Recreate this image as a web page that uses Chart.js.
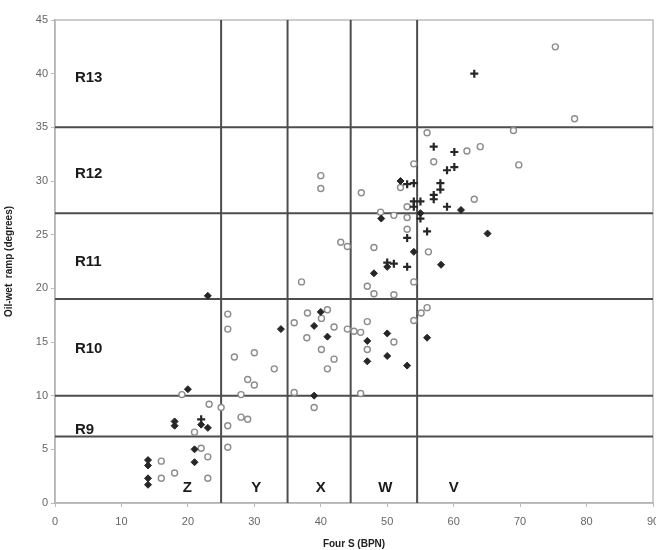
<!DOCTYPE html>
<html>
<head>
<meta charset="utf-8">
<script src="https://cdn.jsdelivr.net/npm/chart.js@4"></script>
<style>
  html, body { margin: 0; padding: 0; background: #fff; }
  #wrap { width: 656px; height: 550px; }
</style>
</head>
<body>
<div id="wrap"><canvas id="chart" width="656" height="550"></canvas></div>
<script>
// open circles
const circleX = [75.3, 78.2, 69, 69.8, 56, 62, 64, 57, 54, 46.1, 52, 63.1, 49, 51, 53, 53, 53, 56.2, 48, 43, 44, 40, 40,
  37.1, 47, 48, 51, 54, 56, 55.1, 54, 36, 38, 41, 40.1, 37.9, 42, 40.1, 42, 41, 44, 45, 46, 47, 51, 47, 36, 46, 39,
  26, 26, 27, 30, 33, 29, 30, 28, 23.2, 25, 28, 29, 26, 26, 21, 22, 23, 23, 16, 16, 18, 19.1];
const circleY = [42.5, 35.8, 34.7, 31.5, 34.5, 32.8, 33.2, 31.8, 31.6, 28.9, 29.4, 28.3, 27.1, 26.8, 27.6, 26.6, 25.5, 23.4, 23.8, 24.3, 23.9, 30.5, 29.3,
  20.6, 20.2, 19.5, 19.4, 20.6, 18.2, 17.7, 17.0, 16.8, 17.7, 18.0, 17.2, 15.4, 16.4, 14.3, 13.4, 12.5, 16.2, 16.0, 15.9, 16.9, 15.0, 14.3, 10.3, 10.2, 8.9,
  17.6, 16.2, 13.6, 14.0, 12.5, 11.5, 11.0, 10.1, 9.2, 8.9, 8.0, 7.8, 7.2, 5.2, 6.6, 5.1, 4.3, 2.3, 3.9, 2.3, 2.8, 10.1];

// filled diamonds
const diamondX = [23, 34, 20, 18, 18, 22, 23, 21, 21, 14, 14, 14, 14, 40, 39, 41, 47, 47, 50, 50, 53, 56, 39,
  52, 55, 49.1, 61.1, 65.1, 54, 58.1, 48, 50];
const diamondY = [19.3, 16.2, 10.6, 7.6, 7.2, 7.3, 7.0, 5.0, 3.8, 4.0, 3.5, 2.3, 1.7, 17.8, 16.5, 15.5, 15.1, 13.2, 15.8, 13.7, 12.8, 15.4, 10.0,
  30.0, 27.0, 26.5, 27.3, 25.1, 23.4, 22.2, 21.4, 22.0];

// crosses
const crossX = [63.1, 57, 60.1, 59, 60.1, 58, 58, 57, 57, 53, 54, 54, 55, 54, 59, 55, 56, 53, 50, 51, 53, 22];
const crossY = [40.0, 33.2, 32.7, 31.0, 31.3, 29.8, 29.2, 28.7, 28.3, 29.7, 29.8, 28.1, 28.1, 27.6, 27.6, 26.5, 25.3, 24.7, 22.4, 22.3, 22.0, 7.8];

// region boundaries
const rampBreaks = [6.2, 10, 19, 27, 35];
const fourSBreaks = [25, 35, 44.5, 54.5];

// region labels
const rampLabels = ["R9", "R10", "R11", "R12", "R13"];
const rampLabelY = [6.8, 14.4, 22.5, 30.7, 39.6];
const fourSLabels = ["Z", "Y", "X", "W", "V"];
const fourSLabelX = [19.9, 30.3, 40, 49.7, 60];

function toPoints(xs, ys) {
  return xs.map((x, i) => ({ x: x, y: ys[i] }));
}

const datasets = [
  {
    data: toPoints(crossX, crossY),
    pointStyle: "cross", pointRadius: 4, borderWidth: 2.2,
    borderColor: "#262626", backgroundColor: "#262626", showLine: false
  },
  {
    data: toPoints(diamondX, diamondY),
    pointStyle: "rectRot", pointRadius: 3.5, borderWidth: 1,
    borderColor: "#262626", backgroundColor: "#262626", showLine: false
  },
  {
    data: toPoints(circleX, circleY),
    pointStyle: "circle", pointRadius: 3, borderWidth: 1.4,
    borderColor: "#8c8c8c", backgroundColor: "#fff", showLine: false
  }
];

// boundary lines as two point datasets
rampBreaks.forEach(v => {
  datasets.push({
    type: "line", data: [{ x: 0, y: v }, { x: 90, y: v }],
    borderColor: "#4d4d4d", borderWidth: 2, pointRadius: 0, order: 10
  });
});
fourSBreaks.forEach(v => {
  datasets.push({
    type: "line", data: [{ x: v, y: 0 }, { x: v, y: 45 }],
    borderColor: "#4d4d4d", borderWidth: 2, pointRadius: 0, order: 10
  });
});

// draws the frame and the region names
const regionText = {
  id: "regionText",
  beforeDatasetsDraw(chart) {
    const a = chart.chartArea;
    const ctx = chart.ctx;
    ctx.save();
    ctx.strokeStyle = "#bdbdbd";
    ctx.lineWidth = 1.5;
    ctx.strokeRect(a.left, a.top, a.right - a.left, a.bottom - a.top);
    ctx.restore();
  },
  afterDatasetsDraw(chart) {
    const ctx = chart.ctx;
    const xs = chart.scales.x, ys = chart.scales.y;
    ctx.save();
    ctx.fillStyle = "#1a1a1a";
    ctx.font = "bold 15px 'Liberation Sans', Arial, sans-serif";
    ctx.textBaseline = "middle";
    ctx.textAlign = "left";
    rampLabels.forEach((t, i) => {
      ctx.fillText(t, xs.getPixelForValue(3), ys.getPixelForValue(rampLabelY[i]));
    });
    ctx.textAlign = "center";
    fourSLabels.forEach((t, i) => {
      ctx.fillText(t, xs.getPixelForValue(fourSLabelX[i]), ys.getPixelForValue(1.4));
    });
    ctx.restore();
  }
};

const tickFont = { family: "'Liberation Sans', Arial, sans-serif", size: 11 };
const titleFont = { family: "'Liberation Sans', Arial, sans-serif", size: 10, weight: "bold" };

new Chart(document.getElementById("chart"), {
  type: "scatter",
  data: { datasets: datasets },
  plugins: [regionText],
  options: {
    responsive: false,
    animation: false,
    layout: { autoPadding: false, padding: { top: 20, right: 3, left: 3, bottom: 0 } },
    plugins: { legend: { display: false }, tooltip: { enabled: false } },
    scales: {
      x: {
        type: "linear", min: 0, max: 90,
        ticks: { stepSize: 10, color: "#666", font: tickFont, padding: 8 },
        grid: { drawOnChartArea: false, tickLength: 4, color: "#bbb" },
        border: { color: "#999", width: 1.5 },
        title: { display: true, text: "Four S (BPN)", color: "#222", font: titleFont, padding: { top: 0, bottom: 0 } },
        afterFit(scale) { scale.height = 47; scale.paddingLeft = 0; scale.paddingRight = 0; }
      },
      y: {
        type: "linear", min: 0, max: 45,
        ticks: { stepSize: 5, color: "#666", font: tickFont, padding: 3 },
        grid: { drawOnChartArea: false, tickLength: 4, color: "#bbb" },
        border: { color: "#999", width: 1.5 },
        title: { display: true, text: "Oil-wet  ramp (degrees)", color: "#222", font: titleFont, padding: { top: 0, bottom: 2 } },
        afterFit(scale) { scale.width = 52; scale.paddingTop = 0; scale.paddingBottom = 0; }
      }
    }
  }
});
</script>
</body>
</html>
